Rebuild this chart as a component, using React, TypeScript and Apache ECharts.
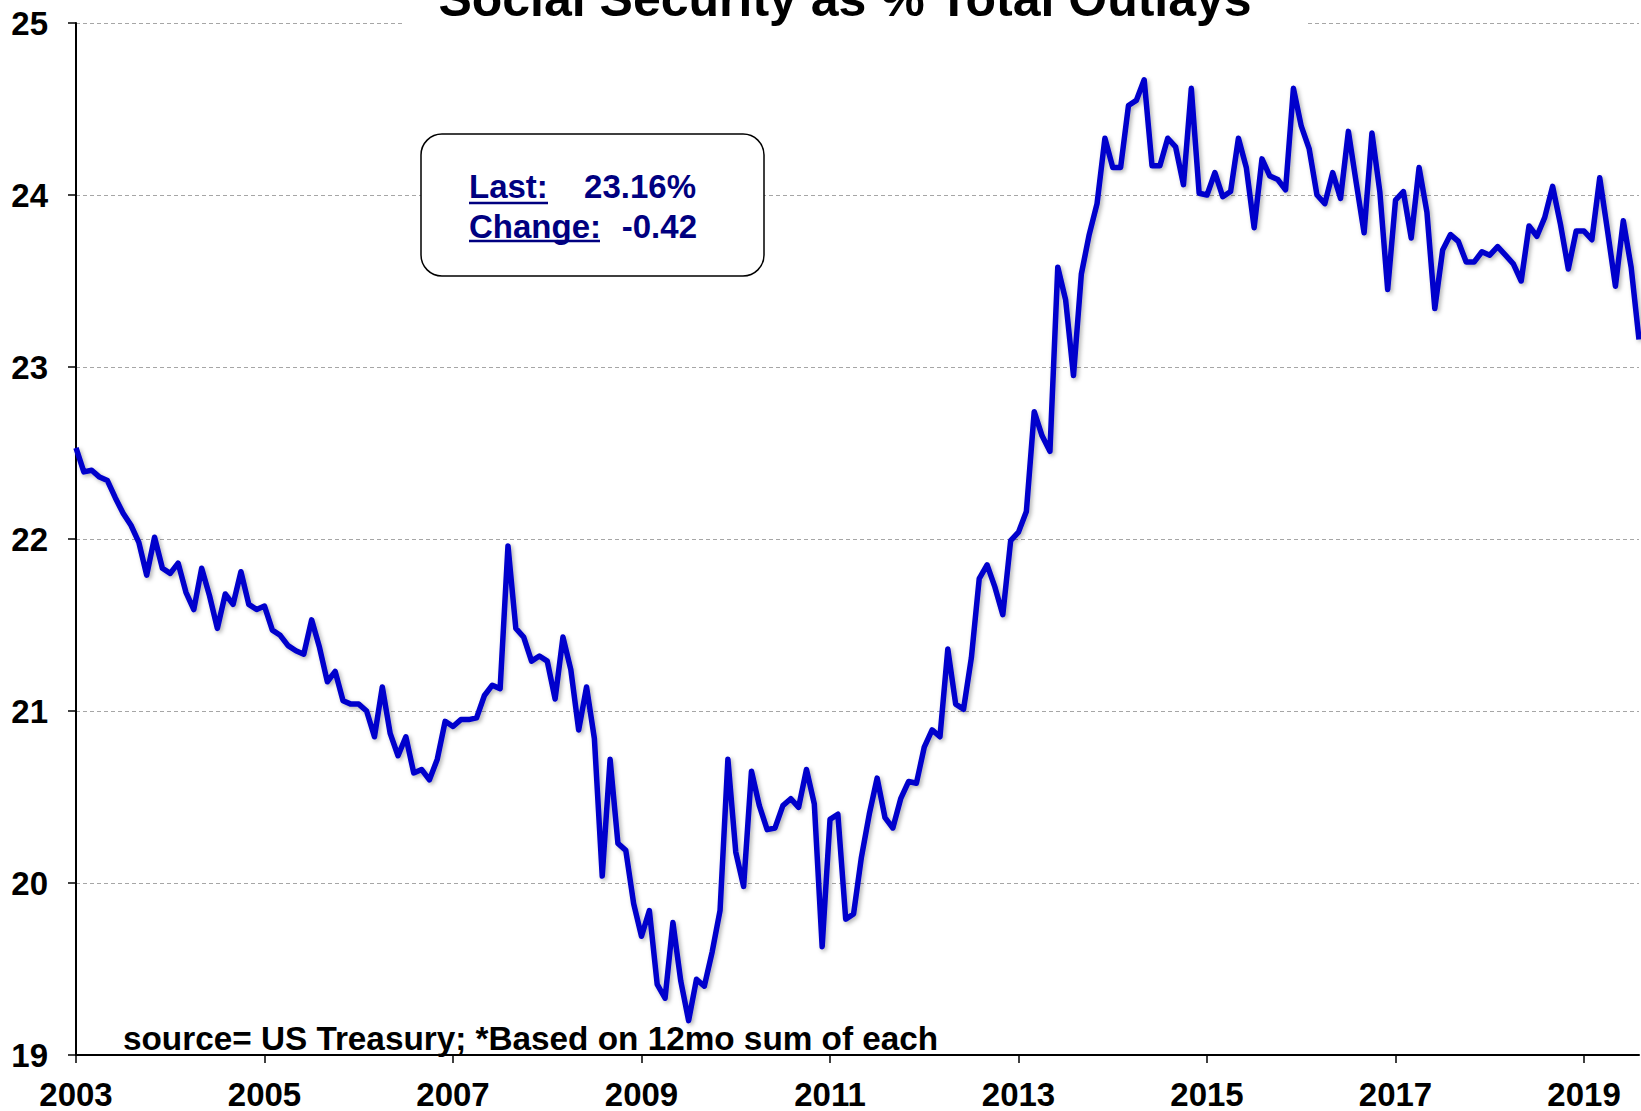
import React, { useEffect, useRef } from "react";
import * as echarts from "echarts";

// Monthly series, Jan 2003 .. Aug 2019 (Social Security as % of total outlays, 12mo sums)
const startYear = 2003;
const values: number[] = [
  22.53, 22.39, 22.40, 22.36, 22.34, 22.24, 22.15, 22.08, 21.98, 21.79, 22.01, 21.83,
  21.80, 21.86, 21.69, 21.59, 21.83, 21.67, 21.48, 21.68, 21.62, 21.81, 21.62, 21.59,
  21.61, 21.47, 21.44, 21.38, 21.35, 21.33, 21.53, 21.37, 21.17, 21.23, 21.06, 21.04,
  21.04, 21.00, 20.85, 21.14, 20.87, 20.74, 20.85, 20.64, 20.66, 20.60, 20.72, 20.94,
  20.91, 20.95, 20.95, 20.96, 21.09, 21.15, 21.13, 21.96, 21.48, 21.43, 21.29, 21.32,
  21.29, 21.07, 21.43, 21.24, 20.89, 21.14, 20.84, 20.04, 20.72, 20.23, 20.19, 19.88,
  19.69, 19.84, 19.41, 19.33, 19.77, 19.43, 19.20, 19.44, 19.40, 19.60, 19.84, 20.72,
  20.18, 19.98, 20.65, 20.45, 20.31, 20.32, 20.45, 20.49, 20.44, 20.66, 20.46, 19.63,
  20.37, 20.40, 19.79, 19.82, 20.15, 20.40, 20.61, 20.38, 20.32, 20.49, 20.59, 20.58,
  20.79, 20.89, 20.85, 21.36, 21.04, 21.01, 21.31, 21.77, 21.85, 21.72, 21.56, 21.99,
  22.04, 22.16, 22.74, 22.60, 22.51, 23.58, 23.39, 22.95, 23.54, 23.77, 23.95, 24.33,
  24.16, 24.16, 24.52, 24.55, 24.67, 24.17, 24.17, 24.33, 24.28, 24.06, 24.62, 24.01,
  24.00, 24.13, 23.99, 24.02, 24.33, 24.16, 23.81, 24.21, 24.11, 24.09, 24.03, 24.62,
  24.40, 24.27, 24.00, 23.95, 24.13, 23.98, 24.37, 24.07, 23.78, 24.36, 24.02, 23.45,
  23.97, 24.02, 23.75, 24.16, 23.90, 23.34, 23.68, 23.77, 23.73, 23.61, 23.61, 23.67,
  23.65, 23.70, 23.65, 23.60, 23.50, 23.82, 23.76, 23.87, 24.05, 23.83, 23.57, 23.79,
  23.79, 23.74, 24.10, 23.79, 23.47, 23.85, 23.58, 23.16,
];
const yMin = 19;
const yMax = 25;
const yStep = 1;
const xStep = 2;

const titleText = "Social Security as % Total Outlays";
const sourceText = "source= US Treasury; *Based on 12mo sum of each";
const lastLabel = "Last:";
const lastValue = "23.16%";
const changeLabel = "Change:";
const changeValue = "-0.42";

const FONT = '"Liberation Sans", Arial, Helvetica, sans-serif';
const NAVY = "#000080";

export default function App() {
  const ref = useRef<HTMLDivElement>(null);

  useEffect(() => {
    const chart = echarts.init(ref.current!, null, { renderer: "svg" });
    const data = values.map((v, i) => [startYear + i / 12, v]);
    const xMax = startYear + (values.length - 1) / 12;

    chart.setOption({
      animation: false,
      backgroundColor: "#ffffff",
      grid: { left: 76, right: 2, top: 23, bottom: 54, containLabel: false },
      xAxis: {
        type: "value",
        min: startYear,
        max: xMax,
        interval: xStep,
        axisLine: { show: true, lineStyle: { color: "#000", width: 2 } },
        axisTick: { show: true, length: 8, inside: false, lineStyle: { color: "#000", width: 1.5 } },
        splitLine: { show: false },
        axisLabel: {
          showMaxLabel: false,
          margin: 26,
          lineHeight: 27,
          color: "#000",
          fontSize: 33,
          fontWeight: "bold",
          fontFamily: FONT,
          formatter: (v: number) => (Math.abs(v - Math.round(v)) < 1e-6 ? String(Math.round(v)) : ""),
        },
      },
      yAxis: {
        type: "value",
        min: yMin,
        max: yMax,
        interval: yStep,
        axisLine: { show: true, lineStyle: { color: "#000", width: 2 } },
        axisTick: { show: true, length: 8, inside: false, lineStyle: { color: "#000", width: 1.5 } },
        splitLine: {
          show: true,
          lineStyle: { color: "#a6a6a6", width: 1, type: [4, 3] },
        },
        axisLabel: {
          margin: 28,
          color: "#000",
          fontSize: 33,
          fontWeight: "bold",
          fontFamily: FONT,
        },
      },
      series: [
        {
          type: "line",
          data,
          showSymbol: false,
          symbol: "none",
          lineStyle: {
            color: "#0000CC",
            width: 5.5,
            join: "round",
            shadowColor: "rgba(0,0,0,0.3)",
            shadowBlur: 4,
            shadowOffsetX: 2,
            shadowOffsetY: 2,
          },
          z: 5,
        },
      ],
      graphic: [
        { type: "rect", z: 100, shape: { x: 403, y: 0, width: 905, height: 30 }, style: { fill: "#fff" } },
        {
          type: "text",
          z: 101,
          x: 845,
          y: -1,
          style: {
            text: titleText,
            fontSize: 50,
            fontWeight: "bold",
            fontFamily: FONT,
            fill: "#000",
            align: "center",
            verticalAlign: "middle",
          },
        },
        {
          type: "rect",
          z: 100,
          shape: { x: 421, y: 134, width: 343, height: 142, r: 21 },
          style: { fill: "#fff", stroke: "#000", lineWidth: 1.5 },
        },
        {
          type: "text",
          z: 101,
          x: 469,
          y: 186,
          style: { text: lastLabel, fontSize: 33, fontWeight: "bold", fontFamily: FONT, fill: NAVY, align: "left", verticalAlign: "middle" },
        },
        {
          type: "text",
          z: 101,
          x: 696,
          y: 186,
          style: { text: lastValue, fontSize: 33, fontWeight: "bold", fontFamily: FONT, fill: NAVY, align: "right", verticalAlign: "middle" },
        },
        {
          type: "text",
          z: 101,
          x: 469,
          y: 226,
          style: { text: changeLabel, fontSize: 33, fontWeight: "bold", fontFamily: FONT, fill: NAVY, align: "left", verticalAlign: "middle" },
        },
        {
          type: "text",
          z: 101,
          x: 697,
          y: 226,
          style: { text: changeValue, fontSize: 33, fontWeight: "bold", fontFamily: FONT, fill: NAVY, align: "right", verticalAlign: "middle" },
        },
        { type: "line", z: 101, shape: { x1: 469, y1: 203, x2: 548, y2: 203 }, style: { stroke: NAVY, lineWidth: 2.5 } },
        { type: "line", z: 101, shape: { x1: 469, y1: 241, x2: 600, y2: 241 }, style: { stroke: NAVY, lineWidth: 2.5 } },
        {
          type: "text",
          z: 101,
          x: 123,
          y: 1038,
          style: { text: sourceText, fontSize: 33.3, fontWeight: "bold", fontFamily: FONT, fill: "#000", align: "left", verticalAlign: "middle" },
        },
      ],
    });

    return () => chart.dispose();
  }, []);

  return (
    <div
      ref={ref}
      style={{ position: "fixed", left: 0, top: 0, width: 1641, height: 1111, background: "#fff" }}
    />
  );
}
